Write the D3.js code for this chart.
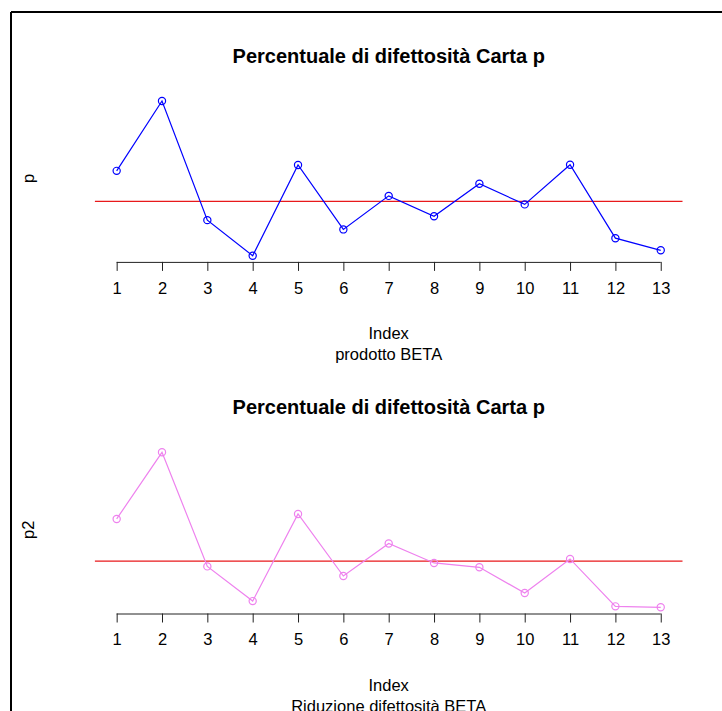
<!DOCTYPE html>
<html>
<head>
<meta charset="utf-8">
<script src="https://cdn.jsdelivr.net/npm/d3@7"></script>
<style>
  html, body { margin: 0; padding: 0; background: #fff; }
  svg { display: block; }
  text { font-family: "Liberation Sans", Arial, Helvetica, sans-serif; fill: #000; }
</style>
</head>
<body>
<svg id="chart" width="722" height="711"></svg>
<script>
// Sample index (1..13) shared by both charts
const samples = [1, 2, 3, 4, 5, 6, 7, 8, 9, 10, 11, 12, 13];
const tickLabels = ["1", "2", "3", "4", "5", "6", "7", "8", "9", "10", "11", "12", "13"];

// Fraction defective per sample, product BETA
const pBeta = [0.0529, 0.0800, 0.0338, 0.0200, 0.0552, 0.0302, 0.0432,
               0.0353, 0.0479, 0.0399, 0.0553, 0.0268, 0.0221];
const pBetaCenter = 0.0411;

// Fraction defective after the defect-reduction work
const pReduced = [0.0385, 0.0600, 0.0232, 0.0120, 0.0401, 0.0201, 0.0306,
                  0.0243, 0.0229, 0.0146, 0.0256, 0.0103, 0.0100];
const pReducedCenter = 0.0249;

const panels = [
  { values: pBeta, center: pBetaCenter, color: "#0000FF", ylab: "p",
    title: "Percentuale di difettosità Carta p", xlab: "Index", sub: "prodotto BETA",
    top: 94.8, bottom: 261.9 },
  { values: pReduced, center: pReducedCenter, color: "#EE82EE", ylab: "p2",
    title: "Percentuale di difettosità Carta p", xlab: "Index", sub: "Riduzione difettosità BETA",
    top: 446.1, bottom: 613.5 }
];

const svg = d3.select("#chart");
const plotLeft = 94.9, plotRight = 682.5;

// outer frame (top and left edges visible)
svg.append("line").attr("x1", 11).attr("y1", 12).attr("x2", 722).attr("y2", 12)
  .attr("stroke", "#000").attr("stroke-width", 2);
svg.append("line").attr("x1", 11).attr("y1", 12).attr("x2", 11).attr("y2", 711)
  .attr("stroke", "#000").attr("stroke-width", 2);

// R-style 4% padding on the x range
const x = d3.scaleLinear()
  .domain([1 - 0.04 * 12, 13 + 0.04 * 12])
  .range([plotLeft, plotRight]);

panels.forEach(pn => {
  const [lo, hi] = d3.extent(pn.values);
  const pad = (hi - lo) * 0.04;
  const y = d3.scaleLinear().domain([lo - pad, hi + pad]).range([pn.bottom, pn.top]);
  const g = svg.append("g");
  const cx = (plotLeft + plotRight) / 2;

  // title
  g.append("text").attr("x", cx).attr("y", pn.top - 31.8)
    .attr("text-anchor", "middle").attr("font-size", 20).attr("font-weight", "bold")
    .text(pn.title);

  // x axis
  const axis = d3.axisBottom(x).tickValues(samples)
    .tickFormat((d, i) => tickLabels[i]).tickSize(9).tickPadding(11).tickSizeOuter(0);
  const ax = g.append("g").attr("transform", `translate(0,${pn.bottom})`).call(axis);
  ax.select(".domain").attr("d", `M${x(1)},0.5H${x(13)}`).attr("stroke", "#222");
  ax.selectAll(".tick line").attr("stroke", "#222");
  ax.selectAll(".tick text").attr("font-size", 16.5).attr("fill", "#000")
    .attr("font-family", "'Liberation Sans', Arial, sans-serif");

  // axis labels
  g.append("text").attr("x", cx).attr("y", pn.bottom + 77.4)
    .attr("text-anchor", "middle").attr("font-size", 16.5).text(pn.xlab);
  g.append("text").attr("x", cx).attr("y", pn.bottom + 98.2)
    .attr("text-anchor", "middle").attr("font-size", 16.5).text(pn.sub);
  g.append("text")
    .attr("transform", `translate(34,${(pn.top + pn.bottom) / 2}) rotate(-90)`)
    .attr("text-anchor", "middle").attr("font-size", 16.5).text(pn.ylab);

  // center line
  g.append("line").attr("x1", plotLeft).attr("x2", plotRight)
    .attr("y1", y(pn.center)).attr("y2", y(pn.center))
    .attr("stroke", "#E8191B").attr("stroke-width", 1.2);

  // series line
  const line = d3.line().x((d, i) => x(samples[i])).y(d => y(d));
  g.append("path").datum(pn.values).attr("d", line)
    .attr("fill", "none").attr("stroke", pn.color).attr("stroke-width", 1.2);

  g.selectAll("circle.pt").data(pn.values).join("circle")
    .attr("class", "pt")
    .attr("cx", (d, i) => x(samples[i])).attr("cy", d => y(d)).attr("r", 3.6)
    .attr("fill", "none").attr("stroke", pn.color).attr("stroke-width", 1.2);
});
</script>
</body>
</html>
